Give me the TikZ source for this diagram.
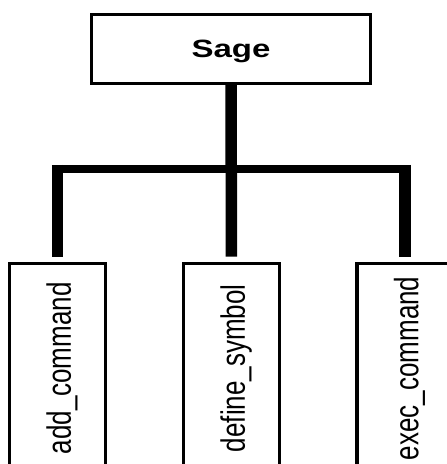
\documentclass[tikz,border=0pt]{standalone}
\usepackage{fontspec}
\setmainfont{Liberation Sans}

\begin{document}
\begin{tikzpicture}[
  x=1pt, y=-1pt,
  box/.style={draw, line width=3.3pt},
  func/.style={box, rotate=90, minimum width=210pt, minimum height=96pt,
    font=\fontsize{26}{26}\selectfont, text height=26.6pt, text depth=0pt},
  bar/.style={line width=8.5pt},
  drop/.style={line width=11.5pt},
]
\useasboundingbox (0,0) rectangle (447,464);
\clip (0,0) rectangle (447,464);
\node[box, minimum width=278.6pt, minimum height=69pt, text depth=0pt,
  font=\fontsize{25}{25}\selectfont\bfseries] (sage) at (231,48.8) {\scalebox{1.32}[1]{Sage}};
\foreach \name/\txt/\x in {add/add\_command/57.5, define/define\_symbol/231.5, exec/exec\_command/405} {
  \node[func] (\name) at (\x,368.3) {\scalebox{1}[1.3]{\txt}};
}
\coordinate (fork) at (231,169);
% bus
\draw[bar, shorten <=-5.75pt, shorten >=-5.75pt] (add.east |- fork) -- (exec.east |- fork);
\draw[drop, shorten >=5pt] (sage.south) -- (define.east);
\foreach \name in {add, exec}
  \draw[drop, shorten >=5pt] ([yshift=4.25pt]fork -| \name.east) -- (\name.east);
\end{tikzpicture}
\end{document}
